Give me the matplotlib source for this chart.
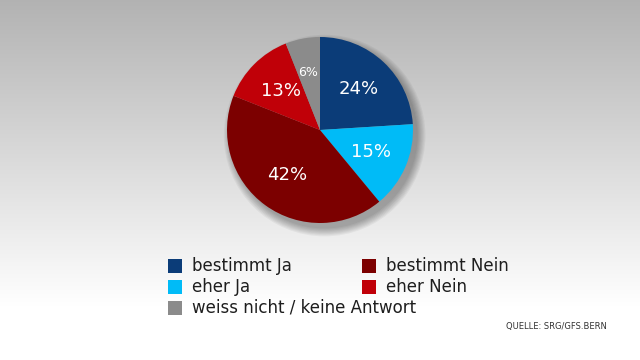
import numpy as np
import matplotlib
matplotlib.use("Agg")
import matplotlib.pyplot as plt
from matplotlib.patches import Circle, Rectangle

# data
labels = ["bestimmt Ja", "eher Ja", "bestimmt Nein", "eher Nein", "weiss nicht / keine Antwort"]
values = [24, 15, 42, 13, 6]
colors = ["#0b3c78", "#00bbf7", "#7c0000", "#c00008", "#8b8b8b"]
source = "QUELLE: SRG/GFS.BERN"

W, H = 640, 360
fig = plt.figure(figsize=(W / 100, H / 100), dpi=100)

# background gradient, grey at the top fading to white
bg = fig.add_axes([0, 0, 1, 1], zorder=0)
yy = np.linspace(0, 1, H)
grad = np.clip(0.70 + 0.30 * yy / 0.85, 0, 1)
img = np.repeat(grad[:, None], W, axis=1)
bg.imshow(np.dstack([img, img, img]), aspect="auto", extent=[0, 1, 0, 1], origin="upper")
bg.set_xlim(0, 1)
bg.set_ylim(0, 1)
bg.axis("off")

# pie axes: centre (320,130) px, radius 93 px
cx, cy, r = 320, 130, 93
ax = fig.add_axes([(cx - r) / W, 1 - (cy + r) / H, 2 * r / W, 2 * r / H], zorder=1)
ax.set_xlim(-1, 1)
ax.set_ylim(-1, 1)
ax.axis("off")

# soft drop shadow
for k in range(8):
    ax.add_patch(Circle((0.05, -0.06), 1.0 + 0.012 * k, color="black",
                        alpha=0.045, lw=0, clip_on=False, zorder=0))

wedges, texts, autotexts = ax.pie(
    values, colors=colors, startangle=90, counterclock=False,
    autopct=lambda p: f"{p:.0f}%", pctdistance=0.6, radius=1.0,
    wedgeprops=dict(linewidth=0),
    textprops=dict(color="white", fontsize=13))
for w in wedges:
    w.set_zorder(2)
autotexts[-1].set_fontsize(9)
autotexts[-1].set_position((-0.13, 0.62))
ax.set_xlim(-1, 1)
ax.set_ylim(-1, 1)

# legend drawn by hand: two columns, three rows
order = [0, 1, 4, 2, 3]
slots = [(168, 266), (168, 287), (168, 308), (362, 266), (362, 287)]
for i, (x, y) in zip(order, slots):
    bg.add_patch(Rectangle((x / W, 1 - (y + 7) / H), 14 / W, 14 / H,
                           color=colors[i], lw=0, transform=bg.transAxes))
    bg.text((x + 24) / W, 1 - y / H, labels[i], fontsize=12, color="#1e1e1e",
            va="center", ha="left", transform=bg.transAxes)

bg.text(607 / W, 1 - 326 / H, source, fontsize=6, color="#333333",
        ha="right", va="center", transform=bg.transAxes)

fig.savefig("out.png", dpi=100)
